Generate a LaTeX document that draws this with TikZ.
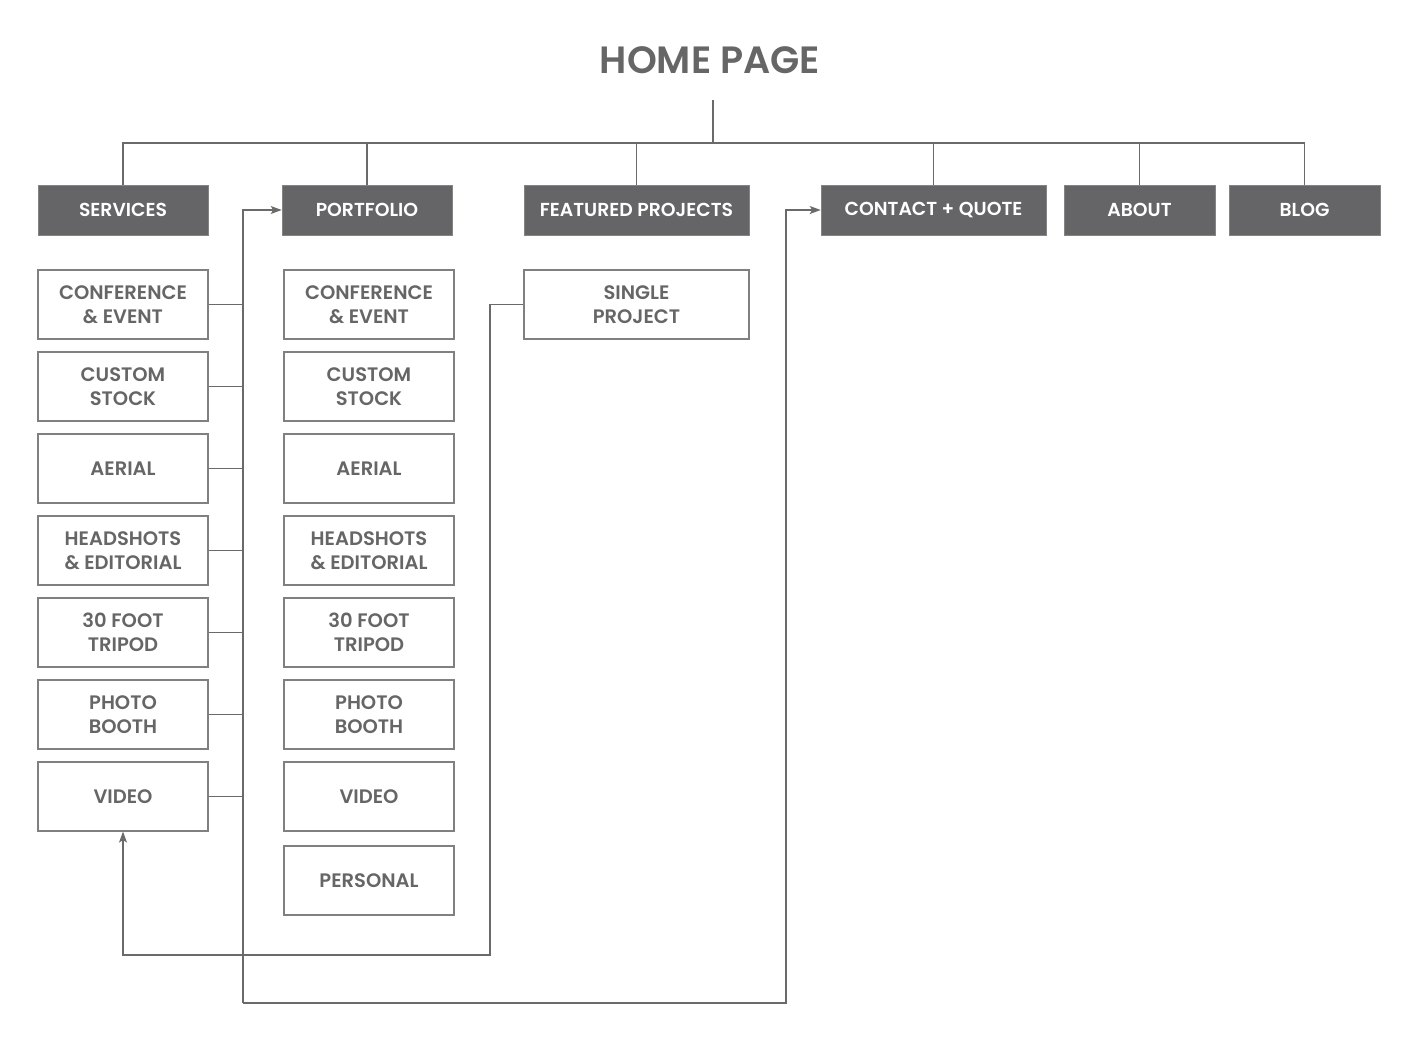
\documentclass[tikz,border=0pt]{standalone}
\usepackage{fontspec}
\setmainfont{Poppins}[BoldFont={Poppins SemiBold}]
\usetikzlibrary{arrows.meta}
\definecolor{boxgray}{HTML}{656567}
\definecolor{txtgray}{HTML}{666666}
\definecolor{linegray}{HTML}{6A6A6A}
\begin{document}
\begin{tikzpicture}[x=1pt,y=-1pt,
  hdr/.style={fill=boxgray, draw=boxgray!80!white, line width=0.6pt, text=white,
    minimum height=50pt, inner sep=0pt, font=\fontsize{18.8}{22}\selectfont\bfseries},
  item/.style={draw=linegray!85!white, line width=1.1pt, fill=white, text=txtgray,
    minimum width=170pt, minimum height=69pt, inner sep=0pt, align=center,
    font=\fontsize{19.5}{24}\selectfont\bfseries},
  link/.style={draw=linegray, line width=1.1pt},
  tip/.style={-{Stealth[length=11pt,width=8pt,inset=2.5pt]}}]
\useasboundingbox (0,0) rectangle (1418,1060);

% title
\node[text=txtgray, font=\fontsize{38}{42}\selectfont\bfseries] (home) at (710,60) {HOME PAGE};

% top-level sections
\node[hdr, minimum width=170pt] (services)  at (123,210)   {SERVICES};
\node[hdr, minimum width=170pt] (portfolio) at (367,210)   {PORTFOLIO};
\node[hdr, minimum width=225pt] (featured)  at (636.5,210) {FEATURED PROJECTS};
\node[hdr, minimum width=225pt] (contact)   at (933.5,210) {CONTACT + QUOTE};
\node[hdr, minimum width=151pt] (about)     at (1139.5,210){ABOUT};
\node[hdr, minimum width=151pt] (blog)      at (1304.5,210){BLOG};

% tree from the home page
\coordinate (stem) at (713,100);
\coordinate (bar) at (713,143);
\draw[link] (stem) -- (bar);
\draw[link] (services.north) -- (services.north |- bar) -- (blog.north |- bar) -- (blog.north);
\foreach \n in {portfolio,featured,contact,about}
  \draw[link] (\n.north) -- (\n.north |- bar);

% services pages
\node[item] (s1) at (123,304.5) {CONFERENCE\\\& EVENT};
\node[item] (s2) at (123,386.5) {CUSTOM\\STOCK};
\node[item] (s3) at (123,468.5) {AERIAL};
\node[item] (s4) at (123,550.5) {HEADSHOTS\\\& EDITORIAL};
\node[item] (s5) at (123,632.5) {30 FOOT\\TRIPOD};
\node[item] (s6) at (123,714.5) {PHOTO\\BOOTH};
\node[item] (s7) at (123,796.5) {VIDEO};

% portfolio pages
\node[item] (p1) at (369,304.5) {CONFERENCE\\\& EVENT};
\node[item] (p2) at (369,386.5) {CUSTOM\\STOCK};
\node[item] (p3) at (369,468.5) {AERIAL};
\node[item] (p4) at (369,550.5) {HEADSHOTS\\\& EDITORIAL};
\node[item] (p5) at (369,632.5) {30 FOOT\\TRIPOD};
\node[item] (p6) at (369,714.5) {PHOTO\\BOOTH};
\node[item] (p7) at (369,796.5) {VIDEO};
\node[item] (p8) at (369,880.5) {PERSONAL};

% featured project page
\node[item, minimum width=225pt] (single) at (636.5,304.5) {SINGLE\\PROJECT};

% service pages link to portfolio and contact
\coordinate (spine) at (243,1003);
\coordinate (turn) at (786,1003);
\foreach \n in {s1,s2,s3,s4,s5,s6,s7}
  \draw[link] (\n.east) -- (\n.east -| spine);
\draw[link,tip] (spine) |- (portfolio.west);
\draw[link,tip] (spine) -- (turn) |- (contact.west);

% single project links back to video
\coordinate (back) at (490,955);
\draw[link,tip] (single.west) -| (back) -| (s7.south);
\end{tikzpicture}
\end{document}
